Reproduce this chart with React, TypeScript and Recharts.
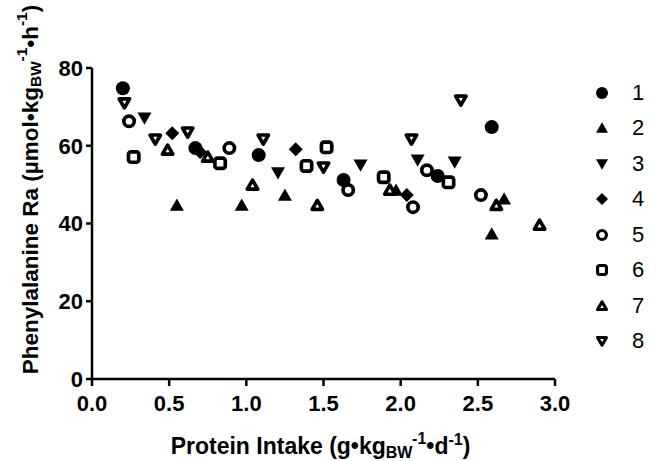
import { Scatter, ScatterChart, XAxis, YAxis } from "recharts";

const FONT = "'Liberation Sans', Arial, Helvetica, sans-serif";

const xTicks = [0, 0.5, 1, 1.5, 2, 2.5, 3];
const yTicks = [0, 20, 40, 60, 80];
const seriesNames = ["1", "2", "3", "4", "5", "6", "7", "8"];

// [protein intake, phenylalanine Ra]
const s1: [number, number][] = [[0.2, 74.8], [0.67, 59.4], [1.08, 57.6], [1.63, 51.2], [2.24, 52.2], [2.59, 64.8]];
const s2: [number, number][] = [[0.55, 44.7], [0.97, 44.7], [1.25, 47.3], [1.97, 48.6], [2.59, 37.3], [2.67, 46.3]];
const s3: [number, number][] = [[0.34, 67.1], [1.205, 53], [1.74, 55], [2.11, 56.3], [2.35, 55.8]];
const s4: [number, number][] = [[0.52, 63.2], [0.7, 58.4], [1.32, 59.1], [2.04, 47.3]];
const s5: [number, number][] = [[0.24, 66.3], [0.89, 59.4], [1.66, 48.6], [2.08, 44.2], [2.17, 53.7], [2.52, 47.3]];
const s6: [number, number][] = [[0.27, 57.1], [0.83, 55.5], [1.39, 54.8], [1.52, 59.6], [1.89, 51.9], [2.31, 50.6]];
const s7: [number, number][] = [[0.49, 58.9], [0.75, 57.1], [1.04, 49.9], [1.46, 44.7], [1.93, 48.6], [2.62, 44.7], [2.9, 39.6]];
const s8: [number, number][] = [[0.21, 71], [0.41, 61.7], [0.62, 63.5], [1.11, 61.7], [1.5, 54.5], [2.07, 61.7], [2.39, 71.7]];

const seriesPoints = [s1, s2, s3, s4, s5, s6, s7, s8];
const markerKinds = ["dot", "triUp", "triDown", "diamond", "ring", "square", "openTriUp", "openTriDown"];

function Marker({ kind, cx, cy, s }: { kind: string; cx: number; cy: number; s: number }) {
  const h = s / 2;
  const sw = s * 0.26;
  switch (kind) {
    case "dot":
      return <circle cx={cx} cy={cy} r={h} fill="#000" />;
    case "triUp":
      return <polygon points={`${cx - h},${cy + h * 0.8} ${cx + h},${cy + h * 0.8} ${cx},${cy - h * 0.95}`} fill="#000" />;
    case "triDown":
      return <polygon points={`${cx - h},${cy - h * 0.8} ${cx + h},${cy - h * 0.8} ${cx},${cy + h * 0.95}`} fill="#000" />;
    case "diamond":
      return <polygon points={`${cx},${cy - h} ${cx + h},${cy} ${cx},${cy + h} ${cx - h},${cy}`} fill="#000" />;
    case "ring":
      return <circle cx={cx} cy={cy} r={h - sw / 2} fill="#fff" stroke="#000" strokeWidth={sw} />;
    case "square":
      return (
        <rect x={cx - h + sw / 2} y={cy - h + sw / 2} width={s - sw} height={s - sw} rx={sw * 0.7}
          fill="#fff" stroke="#000" strokeWidth={sw} />
      );
    case "openTriUp": {
      const a = h - sw / 2;
      return (
        <polygon points={`${cx - a},${cy + a * 0.8} ${cx + a},${cy + a * 0.8} ${cx},${cy - a * 0.95}`}
          fill="#fff" stroke="#000" strokeWidth={sw} strokeLinejoin="round" />
      );
    }
    default: {
      const a = h - sw / 2;
      return (
        <polygon points={`${cx - a},${cy - a * 0.8} ${cx + a},${cy - a * 0.8} ${cx},${cy + a * 0.95}`}
          fill="#fff" stroke="#000" strokeWidth={sw} strokeLinejoin="round" />
      );
    }
  }
}

function LegendBox() {
  return (
    <div style={{ position: "absolute", left: 592, top: 75, fontFamily: FONT, fontSize: 22, color: "#000" }}>
      {seriesNames.map((n, i) => (
        <div key={n} style={{ display: "flex", alignItems: "center", height: 35.5 }}>
          <svg width={20} height={20}>
            <Marker kind={markerKinds[i]} cx={10} cy={10} s={12} />
          </svg>
          <span style={{ marginLeft: 20, lineHeight: "22px" }}>{n}</span>
        </div>
      ))}
    </div>
  );
}

function YTitle({ viewBox }: any) {
  const x = 30;
  const y = viewBox.y + viewBox.height / 2 - 34;
  return (
    <text x={x} y={y} transform={`rotate(-90, ${x}, ${y})`} textAnchor="middle" dominantBaseline="central"
      fontFamily={FONT} fontWeight="bold" fontSize={22.5} fill="#000">
      Phenylalanine Ra (µmol•kg
      <tspan fontSize={15.5} dy={5}>BW</tspan>
      <tspan fontSize={15.5} dy={-14}>-1</tspan>
      <tspan dy={9}>•h</tspan>
      <tspan fontSize={15.5} dy={-9}>-1</tspan>
      <tspan dy={9}>)</tspan>
    </text>
  );
}

function XTitle({ viewBox }: any) {
  const x = viewBox.x + viewBox.width / 2 - 3;
  const y = 454;
  return (
    <text x={x} y={y} textAnchor="middle" fontFamily={FONT} fontWeight="bold" fontSize={23} fill="#000">
      Protein Intake (g•kg
      <tspan fontSize={16} dy={4}>BW</tspan>
      <tspan fontSize={16} dy={-14}>-1</tspan>
      <tspan dy={10}>•d</tspan>
      <tspan fontSize={16} dy={-9}>-1</tspan>
      <tspan dy={9}>)</tspan>
    </text>
  );
}

const tickStyle = { fontFamily: FONT, fontSize: 22, fontWeight: "bold", fill: "#000" };

export default function App() {
  return (
    <div style={{ position: "absolute", left: 0, top: 0, width: 649, height: 461, background: "#fff", overflow: "hidden" }}>
      <ScatterChart width={649} height={461} margin={{ top: 68, right: 94, bottom: 0, left: 0 }}>
        <XAxis
          type="number"
          dataKey="x"
          domain={[0, 3]}
          ticks={xTicks}
          tickFormatter={(v: number) => v.toFixed(1)}
          height={82}
          stroke="#000"
          strokeWidth={2.5}
          tickSize={7}
          tickMargin={9}
          tick={tickStyle}
          label={<XTitle />}
        />
        <YAxis
          type="number"
          dataKey="y"
          domain={[0, 80]}
          ticks={yTicks}
          width={92}
          stroke="#000"
          strokeWidth={2.5}
          tickSize={6}
          tickMargin={3}
          tick={tickStyle}
          label={<YTitle />}
        />
        {seriesPoints.map((pts, i) => (
          <Scatter
            key={seriesNames[i]}
            name={seriesNames[i]}
            data={pts.map(([x, y]) => ({ x, y }))}
            isAnimationActive={false}
            shape={(p: any) => <Marker kind={markerKinds[i]} cx={p.cx} cy={p.cy} s={14} />}
          />
        ))}
      </ScatterChart>
      <LegendBox />
    </div>
  );
}
